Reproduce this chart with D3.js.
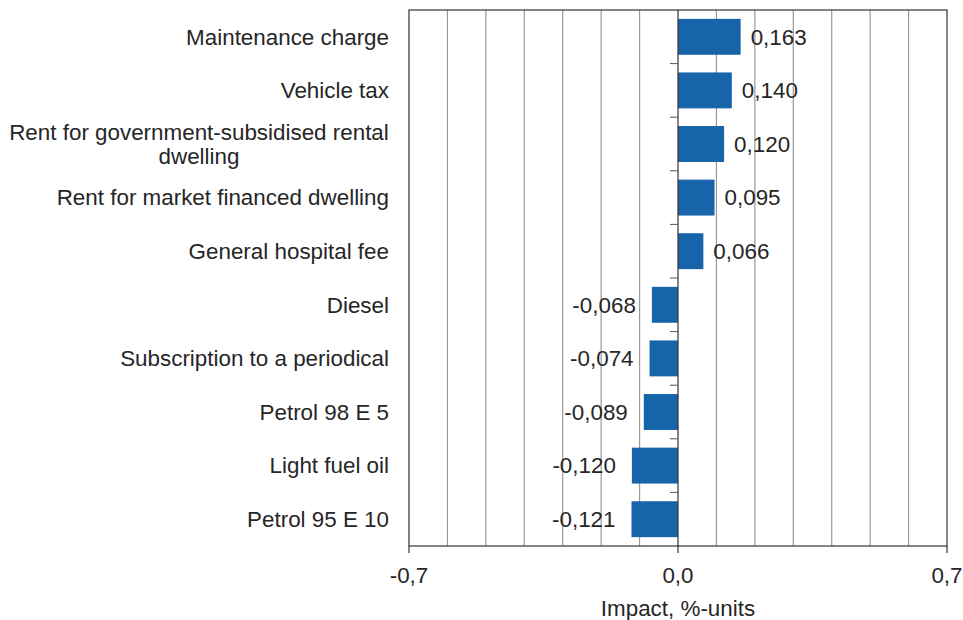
<!DOCTYPE html>
<html>
<head>
<meta charset="utf-8">
<script src="https://cdn.jsdelivr.net/npm/d3@7"></script>
<style>
  body { margin: 0; background: #fff; }
  text { font-family: "Liberation Sans", Arial, sans-serif; fill: #262626; }
</style>
</head>
<body>
<svg id="chart"></svg>
<script>
const width = 963
const height = 620

// data
const categories = [
    'Maintenance charge',
    'Vehicle tax',
    'Rent for government-subsidised rental|dwelling',
    'Rent for market financed dwelling',
    'General hospital fee',
    'Diesel',
    'Subscription to a periodical',
    'Petrol 98 E 5',
    'Light fuel oil',
    'Petrol 95 E 10'
]
const values = [0.163, 0.140, 0.120, 0.095, 0.066, -0.068, -0.074, -0.089, -0.120, -0.121]
const xTicks = [-0.7, 0.0, 0.7]
const xTitle = 'Impact, %-units'

const margin = {top: 10, right: 16, bottom: 74, left: 409}
const fontSize = 22.4

const svg = d3.select('#chart')
    .attr('width', width)
    .attr('height', height)

const x = d3.scaleLinear()
    .domain([-0.7, 0.7])
    .range([margin.left, width - margin.right])

const y = d3.scaleBand()
    .domain(d3.range(categories.length))
    .range([margin.top, height - margin.bottom])
    .paddingInner(0.33)
    .paddingOuter(0.165)

const fmt = v => d3.format('.3f')(v).replace('.', ',').replace('−', '-')
const fmtTick = v => d3.format('.1f')(v).replace('.', ',').replace('−', '-')

const plotTop = margin.top, plotBottom = height - margin.bottom

// gridlines every 0.1
svg.append('g')
    .selectAll('line')
    .data(d3.range(-6, 7).filter(d => d !== 0).map(d => d / 10))
    .join('line')
    .attr('x1', d => x(d)).attr('x2', d => x(d))
    .attr('y1', plotTop).attr('y2', plotBottom)
    .attr('stroke', '#9a9a9a')
    .attr('stroke-width', 1.2)

// plot frame
svg.append('rect')
    .attr('x', x(-0.7)).attr('y', plotTop)
    .attr('width', x(0.7) - x(-0.7)).attr('height', plotBottom - plotTop)
    .attr('fill', 'none')
    .attr('stroke', '#333')
    .attr('stroke-width', 1.2)

// bars
svg.append('g')
    .selectAll('rect')
    .data(values)
    .join('rect')
    .attr('x', d => x(Math.min(0, d)))
    .attr('y', (d, i) => y(i))
    .attr('width', d => Math.abs(x(d) - x(0)))
    .attr('height', y.bandwidth())
    .attr('fill', '#1764ab')

// zero axis with ticks at band boundaries
const step = y.step()
svg.append('line')
    .attr('x1', x(0)).attr('x2', x(0))
    .attr('y1', plotTop).attr('y2', plotBottom)
    .attr('stroke', '#333')
    .attr('stroke-width', 1.2)

svg.append('g')
    .selectAll('line')
    .data(d3.range(1, categories.length))
    .join('line')
    .attr('x1', x(0) - 8).attr('x2', x(0))
    .attr('y1', d => plotTop + d * step).attr('y2', d => plotTop + d * step)
    .attr('stroke', '#555')

// value labels
svg.append('g')
    .selectAll('text')
    .data(values)
    .join('text')
    .attr('x', d => d >= 0 ? x(d) + 10 : x(d) - 16)
    .attr('y', (d, i) => y(i) + y.bandwidth() / 2)
    .attr('dy', '0.35em')
    .attr('text-anchor', d => d >= 0 ? 'start' : 'end')
    .attr('font-size', fontSize)
    .text(d => fmt(d))

// category labels
const catG = svg.append('g')
categories.forEach((c, i) => {
    const lines = c.split('|')
    const cy = y(i) + y.bandwidth() / 2
    const lh = 24
    const t = catG.append('text')
        .attr('text-anchor', 'middle')
        .attr('font-size', fontSize)
    if (lines.length === 1) {
        t.attr('text-anchor', 'end')
            .attr('x', 389).attr('y', cy).attr('dy', '0.35em')
            .text(c)
    } else {
        lines.forEach((l, j) => {
            t.append('tspan')
                .attr('x', 199)
                .attr('y', cy + (j - (lines.length - 1) / 2) * lh)
                .attr('dy', '0.35em')
                .text(l)
        })
    }
})

// x axis ticks and labels
const xa = svg.append('g')
xa.selectAll('line')
    .data(xTicks)
    .join('line')
    .attr('x1', d => x(d)).attr('x2', d => x(d))
    .attr('y1', plotBottom).attr('y2', plotBottom + 7)
    .attr('stroke', '#333')
    .attr('stroke-width', 1.2)
xa.selectAll('text')
    .data(xTicks)
    .join('text')
    .attr('x', d => x(d))
    .attr('y', plotBottom + 37)
    .attr('text-anchor', 'middle')
    .attr('font-size', fontSize)
    .text(d => fmtTick(d))

svg.append('text')
    .attr('x', x(0))
    .attr('y', plotBottom + 70)
    .attr('text-anchor', 'middle')
    .attr('font-size', fontSize)
    .text(xTitle)
</script>
</body>
</html>
